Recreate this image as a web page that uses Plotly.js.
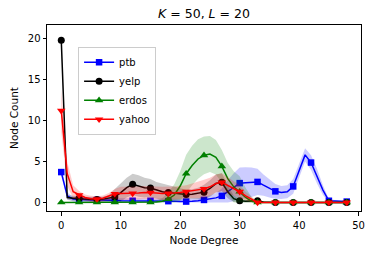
<!DOCTYPE html>
<html>
<head>
<meta charset="utf-8">
<script src="https://cdn.plot.ly/plotly-3.0.1.min.js"></script>
<style>html,body{margin:0;padding:0;background:#fff;}#chart{width:374px;height:255px;}</style>
</head>
<body>
<div id="chart"></div>
<script>
// Node degree (x) and per-dataset mean node counts with their spread
const degree = [0,1,2,3,4,5,6,7,8,9,10,11,12,13,14,15,16,17,18,19,20,21,22,23,24,25,26,27,28,29,30,31,32,33,34,35,36,37,38,39,40,41,42,43,44,45,46,47,48];

const ptbMean = [3.7,0.8,0.4,0.35,0.3,0.3,0.3,0.3,0.25,0.25,0.2,0.2,0.2,0.2,0.2,0.2,0.2,0.15,0.15,0.15,0.1,0.1,0.15,0.2,0.3,0.4,0.55,0.8,1.3,1.85,2.35,2.4,2.45,2.5,2.1,1.7,1.35,1.2,1.3,1.95,3.9,5.8,4.86,3.2,1.5,0.2,0.15,0.1,0.1];
const ptbStd  = [0.5,0.4,0.3,0.3,0.3,0.3,0.3,0.3,0.3,0.3,0.3,0.3,0.3,0.3,0.3,0.3,0.3,0.3,0.3,0.3,0.3,0.3,0.3,0.3,0.35,0.45,0.6,0.9,1.4,1.7,1.9,1.9,1.8,1.6,1.3,1.1,0.9,0.8,0.8,0.9,0.9,0.8,0.9,0.9,0.6,0.2,0.15,0.1,0.1];

const yelpMean = [19.8,0.6,0.5,0.5,0.4,0.35,0.35,0.4,0.5,0.65,1.2,1.8,2.2,2.0,1.8,1.75,1.5,1.3,1.2,1.1,1.0,0.95,1.0,1.1,1.25,1.7,2.3,2.45,1.3,0.45,0.2,0.15,0.15,0.2,0.05,0,0,0,0,0,0,0,0,0,0,0,0,0,0];
const yelpStd  = [0.8,0.3,0.3,0.3,0.3,0.3,0.3,0.3,0.4,1.0,1.1,1.2,1.3,1.3,1.2,1.1,1.0,1.0,0.9,0.8,0.7,0.6,0.6,0.7,0.9,1.0,1.1,1.1,0.8,0.4,0.2,0.15,0.15,0.15,0.05,0,0,0,0,0,0,0,0,0,0,0,0,0,0];

const erdosMean = [0,0,0,0,0,0,0,0,0,0,0,0,0,0,0,0,0.05,0.15,0.4,0.9,2.0,3.5,4.5,5.3,5.75,5.9,5.5,4.4,2.9,1.9,1.3,0.6,0.15,0,0,0,0,0,0,0,0,0,0,0,0,0,0,0,0];
const erdosStd  = [0.05,0.05,0.05,0.05,0.05,0.05,0.05,0.05,0.05,0.05,0.05,0.05,0.05,0.05,0.05,0.05,0.2,0.4,0.8,1.3,1.8,2.3,2.4,2.4,2.3,2.2,2.1,2.0,1.9,1.9,1.9,1.2,0.5,0.1,0.05,0.05,0.05,0.05,0.05,0.05,0.05,0.05,0.05,0.05,0.05,0.05,0.05,0.05,0.05];

const yahooMean = [11.2,3.5,1.3,0.9,0.6,0.45,0.4,0.5,0.75,1.05,1.1,1.1,1.1,1.15,1.2,1.2,1.15,1.1,1.1,1.15,1.2,1.3,1.4,1.5,1.65,1.9,2.3,2.45,2.1,1.7,1.3,0.8,0.35,0,0,0,0,0,0,0,0,0,0,0,0,0,0,0,0];
const yahooStd  = [2.6,1.5,0.8,0.5,0.35,0.35,0.35,0.35,0.4,0.6,0.8,0.8,0.8,0.8,0.8,0.8,0.8,0.8,0.8,0.8,0.8,0.8,0.9,1.0,1.1,1.1,1.1,1.1,1.0,0.9,0.8,0.5,0.3,0.05,0.05,0.05,0.05,0.05,0.05,0.05,0.05,0.05,0.05,0.05,0.05,0.05,0.05,0.05,0.05];

const seriesNames = ['ptb','yelp','erdos','yahoo'];
const xTicks = [0,10,20,30,40,50];
const yTicks = [0,5,10,15,20];
const markEvery = 3;

const styles = {
  ptb:   {color:'#0000ff', band:'rgba(0,0,255,0.2)',  symbol:'square',        size:6.5},
  yelp:  {color:'#000000', band:'rgba(0,0,0,0.2)',    symbol:'circle',        size:7},
  erdos: {color:'#008000', band:'rgba(0,128,0,0.2)',  symbol:'triangle-up',   size:7.5},
  yahoo: {color:'#ff0000', band:'rgba(255,0,0,0.2)',  symbol:'triangle-down', size:7.5}
};
const data = {ptb:[ptbMean,ptbStd], yelp:[yelpMean,yelpStd], erdos:[erdosMean,erdosStd], yahoo:[yahooMean,yahooStd]};

const traces = [];
seriesNames.forEach(name => {
  const [m, s] = data[name];
  const st = styles[name];
  const upper = m.map((v,i) => v + s[i]);
  const lower = m.map((v,i) => Math.max(0, v - s[i]));
  traces.push({x:degree, y:upper, mode:'lines', line:{width:0, color:st.band}, hoverinfo:'skip', showlegend:false});
  traces.push({x:degree, y:lower, mode:'lines', line:{width:0, color:st.band}, fill:'tonexty', fillcolor:st.band, hoverinfo:'skip', showlegend:false});
  traces.push({x:degree, y:m, mode:'lines', line:{color:st.color, width:1.5}, showlegend:false});
  const mx = degree.filter((d,i) => i % markEvery === 0);
  const my = m.filter((d,i) => i % markEvery === 0);
  traces.push({x:mx, y:my, mode:'markers', marker:{symbol:st.symbol, size:st.size, color:st.color, line:{width:0}}, showlegend:false});
});
// legend entries
seriesNames.forEach(name => {
  const st = styles[name];
  traces.push({x:[null], y:[null], name:name, mode:'lines+markers', line:{color:st.color, width:1.5}, marker:{symbol:st.symbol, size:st.size, color:st.color}});
});

const font = 'DejaVu Sans, sans-serif';
const axisCommon = {
  showgrid:false, zeroline:false, showline:true, mirror:true, linecolor:'#000', linewidth:1,
  ticks:'outside', ticklen:3.5, tickwidth:1, tickcolor:'#000',
  tickfont:{family:font, size:10, color:'#000'}
};
const layout = {
  width:374, height:255,
  margin:{l:47, r:13, t:25, b:44},
  paper_bgcolor:'#fff', plot_bgcolor:'#fff',
  font:{family:font, color:'#000'},
  title:{text:'<i>K</i> = 50, <i>L</i> = 20', font:{family:font, size:12.5, color:'#000'}, x:0.5, xref:'paper', y:1-14/255, yref:'container', yanchor:'middle'},
  xaxis:Object.assign({}, axisCommon, {range:[-2.4,50.4], tickvals:xTicks, ticklabelstandoff:1, title:{text:'Node Degree', font:{family:font, size:10.5}, standoff:7}}),
  yaxis:Object.assign({}, axisCommon, {range:[-1.05,21.65], tickvals:yTicks, title:{text:'Node Count', font:{family:font, size:10.5}, standoff:7}}),
  legend:{x:0.099, y:0.883, xanchor:'left', yanchor:'top', traceorder:'normal', bgcolor:'rgba(255,255,255,0.8)', bordercolor:'#cccccc', borderwidth:1, font:{family:font, size:10, color:'#000'}, itemwidth:30, tracegroupgap:0},
  showlegend:true
};
Plotly.newPlot('chart', traces, layout, {staticPlot:true, displayModeBar:false});
</script>
</body>
</html>
